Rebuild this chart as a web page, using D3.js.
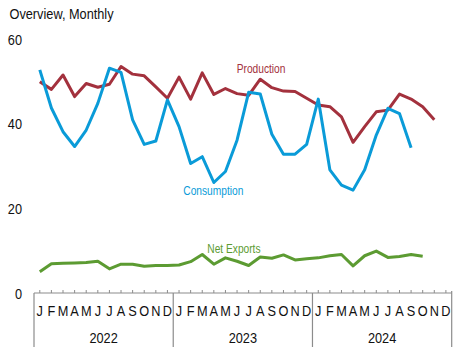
<!DOCTYPE html>
<html>
<head>
<meta charset="utf-8">
<script src="https://cdn.jsdelivr.net/npm/d3@7"></script>
<style>
  html, body { margin: 0; padding: 0; background: #fff; }
  svg { display: block; }
  text { font-family: "Liberation Sans", Arial, sans-serif; }
</style>
</head>
<body>
<svg id="chart" width="466" height="357"></svg>
<script>
// ---- data ----
const monthLetters = ["J","F","M","A","M","J","J","A","S","O","N","D"];
const years = ["2022","2023","2024"];
const yTicks = [0, 20, 40, 60];

const production = [49.9, 48.1, 51.5, 46.4, 49.5, 48.6, 49.3, 53.5, 51.7, 51.3, 48.7, 46.0,
                    51.0, 45.8, 52.0, 46.9, 48.3, 47.1, 46.7, 50.5, 48.5, 47.7, 47.6, 46.0,
                    44.4, 44.0, 41.6, 35.6, 39.3, 42.8, 43.2, 47.0, 45.8, 44.0, 40.9];
const consumption = [52.7, 43.7, 38.1, 34.6, 38.5, 44.8, 53.1, 52.1, 40.9, 35.1, 35.9, 45.6,
                     39.3, 30.6, 32.2, 26.1, 28.7, 36.1, 47.4, 47.0, 37.5, 32.8, 32.8, 35.1,
                     45.8, 29.1, 25.5, 24.3, 29.1, 37.3, 43.6, 42.4, 34.3];
const netExports = [5.0, 6.9, 7.0, 7.1, 7.2, 7.5, 5.7, 6.8, 6.8, 6.3, 6.5, 6.5,
                    6.6, 7.4, 9.1, 6.8, 8.3, 7.5, 6.5, 8.5, 8.2, 9.0, 7.8, 8.1,
                    8.3, 8.8, 9.1, 6.4, 8.8, 9.9, 8.4, 8.6, 9.1, 8.7];

const seriesNames = ["Production", "Consumption", "Net Exports"];
const seriesColors = ["#a3313d", "#0a9bd8", "#5c9b32"];

// ---- layout ----
const svg = d3.select("#chart");
const SX = 0.85; // horizontal text compression
const left = 34, right = 451.7, axisY = 293, topY = 39;

const monthIdx = d3.range(years.length * 12);
const x = d3.scaleBand().domain(monthIdx).range([left, right]).paddingInner(0).paddingOuter(0);
const xc = i => x(i) + x.bandwidth() / 2;
const y = d3.scaleLinear().domain([0, 60]).range([axisY, topY]);

function label(g, txt, tx, ty, size, anchor, fill) {
  return g.append("text")
    .attr("transform", `translate(${tx},${ty}) scale(${SX},1)`)
    .attr("text-anchor", anchor)
    .attr("font-size", size)
    .attr("fill", fill)
    .text(txt);
}

// title
label(svg, "Overview, Monthly", 9.5, 18.5, 15, "start", "#111");

// y labels
yTicks.forEach(v => label(svg, String(v), 22, y(v) + 5.5, 15, "end", "#111"));

// x axis
const axisColor = "#8c8c8c";
const gx = svg.append("g");
gx.append("line").attr("x1", left).attr("x2", right).attr("y1", axisY).attr("y2", axisY)
  .attr("stroke", axisColor).attr("stroke-width", 1.2);
gx.selectAll("line.tick").data(monthIdx).join("line").attr("class", "tick")
  .attr("x1", d => xc(d)).attr("x2", d => xc(d))
  .attr("y1", axisY - 3).attr("y2", axisY)
  .attr("stroke", axisColor).attr("stroke-width", 1);
// year dividers / frame lines
const dividers = d3.range(years.length + 1).map(k => k === years.length ? right : x(k * 12));
gx.selectAll("line.div").data(dividers).join("line").attr("class", "div")
  .attr("x1", d => d).attr("x2", d => d)
  .attr("y1", (d, k) => k === years.length ? axisY - 2 : axisY).attr("y2", 347)
  .attr("stroke", axisColor).attr("stroke-width", 1.2);
// month letters
monthIdx.forEach(i => label(gx, monthLetters[i % 12], xc(i), 316, 15, "middle", "#111"));
// year labels
years.forEach((yr, k) => {
  const cx = (x(k * 12) + x(k * 12 + 11) + x.bandwidth()) / 2;
  label(gx, yr, cx, 342.5, 15, "middle", "#111");
});

// lines
const line = d3.line().x((d, i) => xc(i)).y(d => y(d));
[production, consumption, netExports].forEach((s, k) => {
  svg.append("path").datum(s)
    .attr("d", line)
    .attr("fill", "none")
    .attr("stroke", seriesColors[k])
    .attr("stroke-width", 3)
    .attr("stroke-linejoin", "round")
    .attr("stroke-linecap", "butt");
});

// series labels
label(svg, seriesNames[0], 236.7, 73, 12, "start", seriesColors[0]);
label(svg, seriesNames[1], 183.3, 195, 12, "start", seriesColors[1]);
label(svg, seriesNames[2], 207.3, 252.5, 12, "start", seriesColors[2]);
</script>
</body>
</html>
